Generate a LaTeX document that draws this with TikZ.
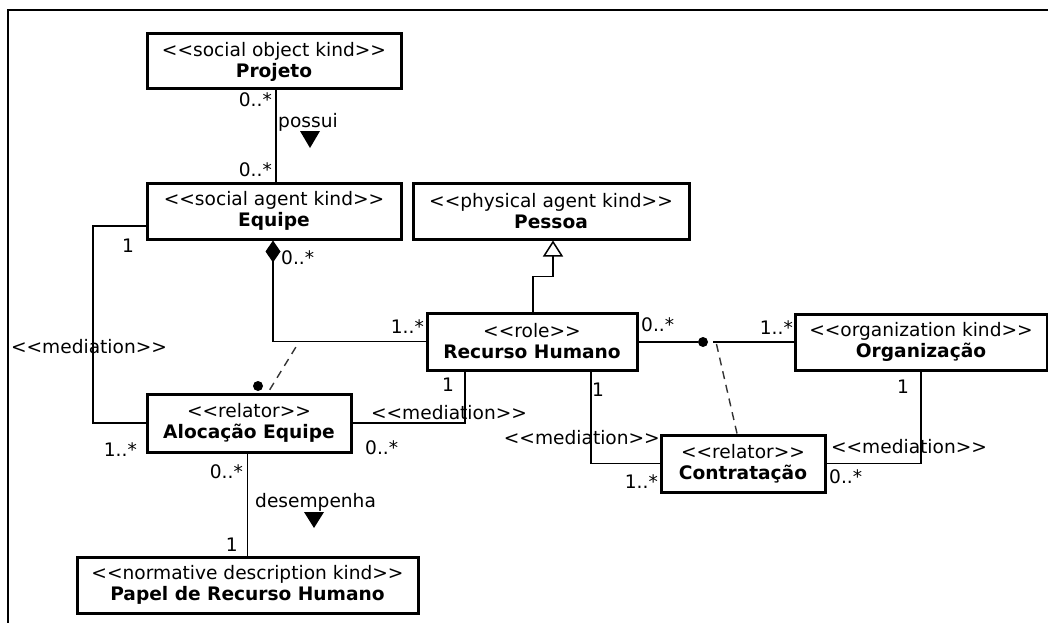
\documentclass[tikz,border=0pt]{standalone}
\usepackage{fontspec}
\setmainfont{DejaVu Sans}[Ligatures=TeXOff]
\usetikzlibrary{arrows.meta,calc}
\begin{document}
\begin{tikzpicture}[x=1pt,y=-1pt,
  every node/.style={font=\fontsize{18.6}{21}\selectfont},
  umlbox/.style={draw, line width=3pt, fill=white, align=center, inner sep=0pt},
  lbl/.style={inner sep=0pt},
  conn/.style={line width=1.5pt},
  relline/.style={line width=1.4pt, dash pattern=on 8pt off 6pt, black!80},
  dotnode/.style={circle, fill=black, inner sep=0pt, minimum size=10pt},
  gen/.style={conn, -{Triangle[open, length=16pt, width=20pt, fill=white]}},
  comp/.style={conn, {Diamond[length=22pt, width=15pt]}-},
  readdir/.style={fill=black},
]
\useasboundingbox (0,0) rectangle (1048,623);
\fill[white] (0,0) rectangle (1048,623);
\draw[line width=2pt] (1048,10) -- (8,10) -- (8,623);

% classes
\node[umlbox, minimum width=254pt, minimum height=55pt] (proj) at (274,61.5)
  {<<social object kind>>\\\bfseries Projeto};
\node[umlbox, minimum width=254pt, minimum height=56pt] (equipe) at (274,211)
  {<<social agent kind>>\\\bfseries Equipe};
\node[umlbox, minimum width=276pt, minimum height=56pt] (pessoa) at (551,211)
  {<<physical agent kind>>\\\bfseries Pessoa};
\node[umlbox, minimum width=210pt, minimum height=57pt] (rh) at (532,341.5)
  {<<role>>\\\bfseries Recurso Humano};
\node[umlbox, minimum width=252pt, minimum height=56pt] (org) at (921,342)
  {<<organization kind>>\\\bfseries Organização};
\node[umlbox, minimum width=204pt, minimum height=58pt] (aloc) at (249,423)
  {<<relator>>\\\bfseries Alocação Equipe};
\node[umlbox, minimum width=164pt, minimum height=57pt] (contr) at (743,463.5)
  {<<relator>>\\\bfseries Contratação};
\node[umlbox, minimum width=341pt, minimum height=56pt] (papel) at (247.5,585)
  {<<normative description kind>>\\\bfseries Papel de Recurso Humano};

% Projeto -- Equipe : possui
\draw[conn] ([xshift=2pt]proj.south) -- ([xshift=2pt]equipe.north);
\node[lbl, anchor=east] (pm1) at (272,100) {0..*};
\node[lbl, anchor=west] (possui) at (278,122) {possui};
\fill[readdir] (300,131) -- (320,131) -- (310,148) -- cycle;
\node[lbl, anchor=east] (pm2) at (272,170) {0..*};

% generalization Recurso Humano -> Pessoa
\draw[gen] ([xshift=1pt]rh.north) -- ++(0,-35) -| ([xshift=2pt]pessoa.south);

% composition Equipe <>-- Recurso Humano
\draw[comp] ([xshift=-1pt]equipe.south) |- (rh.west);
\node[lbl, anchor=west] (cm1) at (281,258) {0..*};
\node[lbl, anchor=east] (cm2) at (424,327) {1..*};

% Alocação Equipe relator link
\coordinate (eqrh) at (299,342);
\draw[relline, shorten <=6pt] (eqrh) -- ([xshift=19pt]aloc.north);
\node[dotnode] (alocdot) at (258,386) {};

% mediation Equipe -- Alocação Equipe
\draw[conn] ([yshift=-15pt]equipe.west) -| (93,423) -- (aloc.west);
\node[lbl] (mq1) at (128,246) {1};
\node[lbl] (mqm) at (89,347) {<<mediation>>};
\node[lbl, anchor=east] (mq2) at (137,450) {1..*};

% mediation Alocação Equipe -- Recurso Humano
\draw[conn] (aloc.east) -| ([xshift=-67pt]rh.south);
\node[lbl] (mr1) at (448,385) {1};
\node[lbl] (mrm) at (449,413) {<<mediation>>};
\node[lbl, anchor=west] (mr2) at (365,448) {0..*};

% Alocação Equipe -- Papel : desempenha
\draw[conn] (papel.north |- aloc.south) -- (papel.north);
\node[lbl, anchor=east] (dm1) at (243,472) {0..*};
\node[lbl, anchor=west] (desemp) at (255,502) {desempenha};
\fill[readdir] (304,512) -- (324,512) -- (314,528) -- cycle;
\node[lbl, anchor=east] (dm2) at (238,545) {1};

% material relation Recurso Humano -- Organização
\node[dotnode] (rhdot) at (703,342) {};
\draw[conn] (rh.east |- rhdot) -- (rhdot);
\draw[conn, shorten <=5pt] (rhdot) -- (org.west |- rhdot);
\node[lbl, anchor=west] (om1) at (641,325) {0..*};
\node[lbl, anchor=east] (om2) at (793,328) {1..*};
\coordinate (rhorg) at (716,342);
\draw[relline, shorten <=2pt] (rhorg) -- ([xshift=-6pt]contr.north);

% mediation Recurso Humano -- Contratação
\draw[conn] ([xshift=59pt]rh.south) |- (contr.west);
\node[lbl] (mc1) at (598,390) {1};
\node[lbl, anchor=east] (mcm) at (660,438) {<<mediation>>};
\node[lbl, anchor=east] (mc2) at (658,482) {1..*};

% mediation Organização -- Contratação
\draw[conn] (org.south) |- (contr.east);
\node[lbl] (mo1) at (903,387) {1};
\node[lbl] (mom) at (909,447) {<<mediation>>};
\node[lbl, anchor=west] (mo2) at (829,477) {0..*};
\end{tikzpicture}
\end{document}
